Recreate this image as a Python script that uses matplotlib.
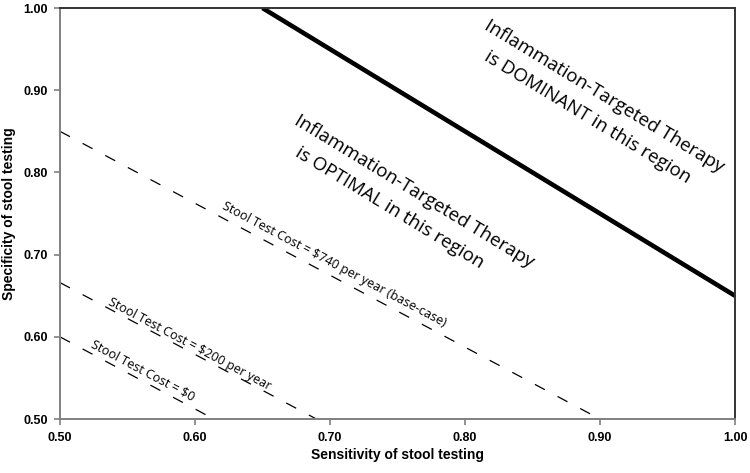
import numpy as np
import matplotlib.pyplot as plt

# threshold lines: specificity needed at each sensitivity
dominant_x = [0.65, 1.00]
dominant_y = [1.00, 0.65]

cost740_x = [0.50, 0.90]
cost740_y = [0.85, 0.50]

cost200_x = [0.50, 0.69]
cost200_y = [0.666, 0.50]

cost0_x = [0.50, 0.614]
cost0_y = [0.60, 0.50]

ticks = [0.50, 0.60, 0.70, 0.80, 0.90, 1.00]
tick_labels = ['0.50', '0.60', '0.70', '0.80', '0.90', '1.00']

fig = plt.figure(figsize=(7.5, 4.73), dpi=100)
ax = fig.add_axes([0.08, 0.114, 0.9, 0.869])

ax.plot(dominant_x, dominant_y, color='black', lw=3.3, solid_capstyle='butt')
for xs, ys in [(cost740_x, cost740_y), (cost200_x, cost200_y), (cost0_x, cost0_y)]:
    ax.plot(xs, ys, color='black', lw=0.9, dashes=(9, 11.5))

ax.set_xlim(0.5, 1.0)
ax.set_ylim(0.5, 1.0)
ax.set_xticks(ticks)
ax.set_xticklabels(tick_labels)
ax.set_yticks(ticks)
ax.set_yticklabels(tick_labels)

tick_font = dict(family='Liberation Sans', weight='bold', size=9)
for lab in ax.get_xticklabels() + ax.get_yticklabels():
    lab.set_fontproperties(tick_font)
ax.tick_params(direction='out', length=4, width=1.2, color='#808080', pad=5)

for side in ['left', 'bottom']:
    ax.spines[side].set_color('#808080')
    ax.spines[side].set_linewidth(1.4)
for side in ['top', 'right']:
    ax.spines[side].set_color('#333333')
    ax.spines[side].set_linewidth(1.4)

ax.set_xlabel('Sensitivity of stool testing', family='Liberation Sans',
              weight='bold', size=10, labelpad=3)
ax.set_ylabel('Specificity of stool testing', family='Liberation Sans',
              weight='bold', size=10, labelpad=5)

# labels follow the lines (rotation given in data space), anchored at baseline start
slope_dash = np.degrees(np.arctan(-0.875))
slope_thick = np.degrees(np.arctan(-1.0))
lab_font = dict(family='Open Sans', color='black', ha='left', va='baseline',
                transform_rotates_text=True, rotation_mode='anchor')

ax.text(0.5222, 0.5882, 'Stool Test Cost = $0', size=9.1,
        rotation=slope_dash, **lab_font)
ax.text(0.5348, 0.640, 'Stool Test Cost = $200 per year', size=9.1,
        rotation=slope_dash, **lab_font)
ax.text(0.6193, 0.7567, 'Stool Test Cost = $740 per year (base-case)', size=9.1,
        rotation=slope_dash, **lab_font)

ax.text(0.6726, 0.860, 'Inflammation-Targeted Therapy', size=13.5,
        rotation=slope_thick, **lab_font)
ax.text(0.6733, 0.821, 'is OPTIMAL in this region', size=13.5,
        rotation=slope_thick, **lab_font)
ax.text(0.8133, 0.9745, 'Inflammation-Targeted Therapy', size=13.5,
        rotation=slope_thick, **lab_font)
ax.text(0.8133, 0.9367, 'is DOMINANT in this region', size=13.5,
        rotation=slope_thick, **lab_font)

fig.savefig('out.png', dpi=100)
